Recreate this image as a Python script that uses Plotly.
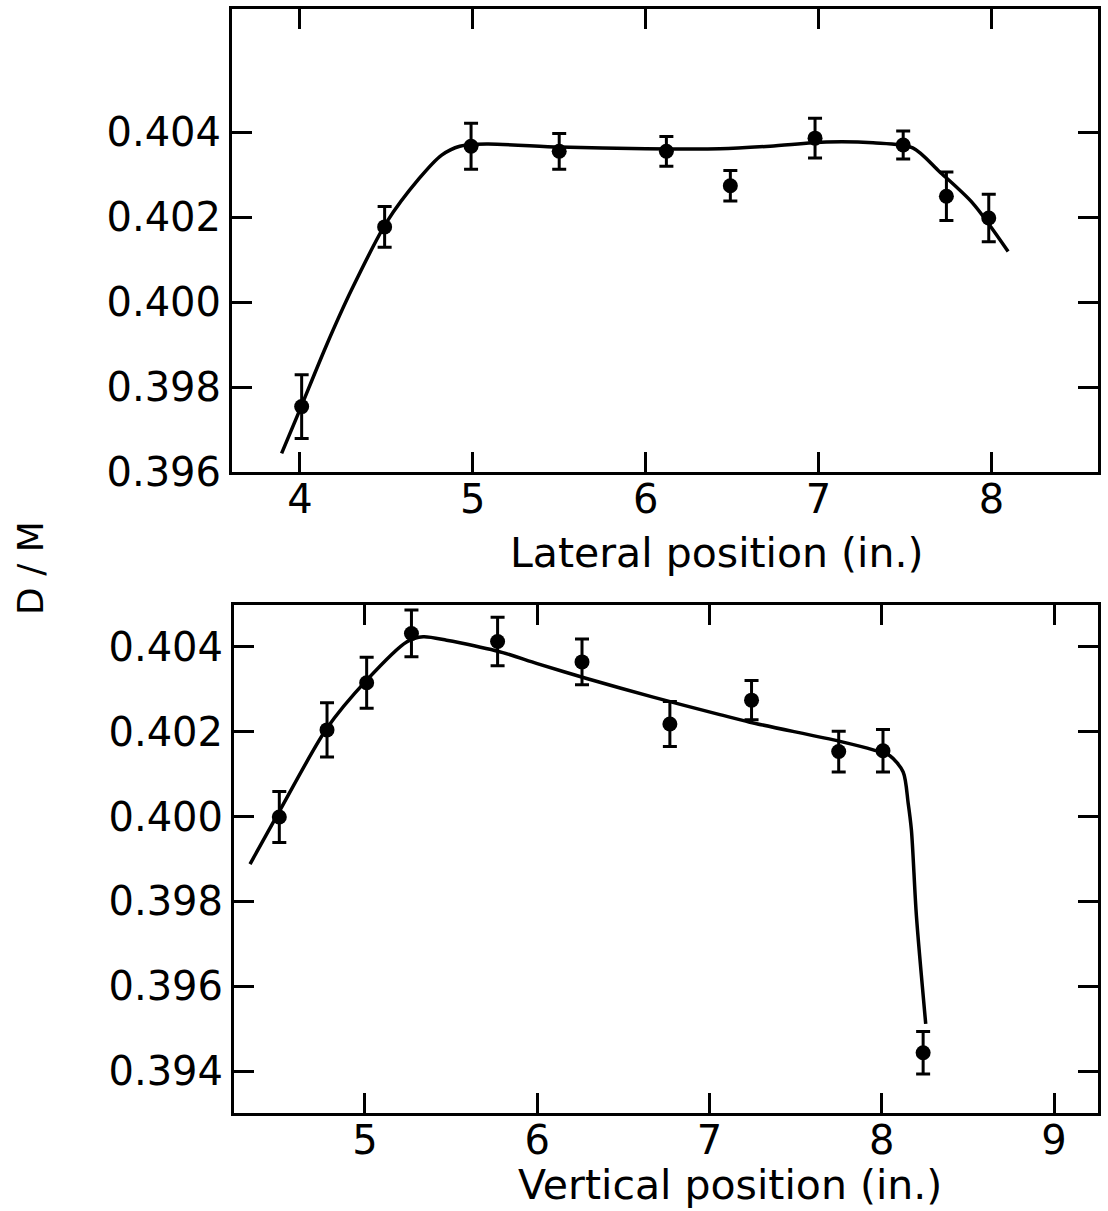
import plotly.graph_objects as go

# ---- Data: lateral position (top panel) ----
lat_x = [4.01, 4.49, 4.99, 5.50, 6.12, 6.49, 6.98, 7.49, 7.74, 7.985]
lat_y = [0.39754, 0.40177, 0.40367, 0.40355, 0.40355, 0.40274, 0.40386, 0.40370, 0.40249, 0.40198]
lat_err = [0.00075, 0.00048, 0.00054, 0.00042, 0.00035, 0.00036, 0.00047, 0.00033, 0.00057, 0.00056]
lat_fit_x = [3.894, 4.0, 4.15, 4.30, 4.50, 4.69, 4.82, 4.925, 5.08, 5.5, 6.0,
             6.43, 6.72, 7.046, 7.316, 7.545, 7.70, 7.892, 8.097]
lat_fit_y = [0.39644, 0.39747, 0.39895, 0.40030, 0.40187, 0.40291, 0.40346,
             0.40367, 0.40372, 0.40365, 0.40361, 0.40361, 0.40367, 0.40377, 0.40375, 0.40363,
             0.40307, 0.40233, 0.40119]

# ---- Data: vertical position (bottom panel) ----
ver_x = [4.503, 4.78, 5.01, 5.27, 5.77, 6.26, 6.77, 7.244, 7.75, 8.007, 8.24]
ver_y = [0.39999, 0.40204, 0.40315, 0.40431, 0.40412, 0.40364, 0.40218, 0.40274, 0.40153,
         0.40155, 0.39444]
ver_err = [0.0006, 0.00064, 0.0006, 0.00055, 0.00057, 0.00054, 0.00053, 0.00046, 0.00048,
           0.0005, 0.0005]
ver_fit_x = [4.333, 4.503, 4.778, 5.01, 5.242, 5.338, 5.474, 5.551, 5.80, 6.0, 6.287,
             6.673, 7.06, 7.234, 7.757, 7.95, 8.047, 8.124, 8.153, 8.172, 8.201, 8.255]
ver_fit_y = [0.39888, 0.40012, 0.40207, 0.40321, 0.40411, 0.40423, 0.40415, 0.40409,
             0.40386, 0.40360, 0.40325, 0.40281, 0.40240, 0.40222, 0.40177, 0.40157, 0.40143,
             0.40105, 0.40032, 0.39968, 0.39766, 0.39512]

lat_ticks = [4, 5, 6, 7, 8]
ver_ticks = [5, 6, 7, 8, 9]
lat_yticks = [0.396, 0.398, 0.400, 0.402, 0.404]
ver_yticks = [0.394, 0.396, 0.398, 0.400, 0.402, 0.404]

W, H = 1108, 1211
FONT = "DejaVu Sans"

fig = go.Figure()

def add_panel(xs, ys, errs, fx, fy, xa, ya):
    fig.add_trace(go.Scatter(x=fx, y=fy, mode="lines",
                             line=dict(color="black", width=3.5, shape="spline", smoothing=0.8),
                             xaxis=xa, yaxis=ya, showlegend=False, hoverinfo="skip"))
    fig.add_trace(go.Scatter(x=xs, y=ys, mode="markers",
                             marker=dict(color="black", size=15),
                             error_y=dict(type="data", array=errs, visible=True,
                                          color="black", thickness=3, width=7),
                             xaxis=xa, yaxis=ya, showlegend=False))

add_panel(lat_x, lat_y, lat_err, lat_fit_x, lat_fit_y, "x", "y")
add_panel(ver_x, ver_y, ver_err, ver_fit_x, ver_fit_y, "x2", "y2")

axis_common = dict(showline=True, linecolor="black", linewidth=3, mirror="ticks",
                   ticks="inside", ticklen=20, tickwidth=3, tickcolor="black",
                   showgrid=False, zeroline=False, automargin=False,
                   tickfont=dict(family=FONT, size=40, color="black"))

fig.update_layout(
    width=W, height=H,
    margin=dict(l=0, r=0, t=0, b=0),
    paper_bgcolor="white", plot_bgcolor="white",
    xaxis=dict(axis_common, domain=[232 / W, 1098 / W], range=[3.607, 8.617],
               tickvals=lat_ticks, anchor="y", ticklabelstandoff=-10),
    yaxis=dict(axis_common, domain=[1 - 472 / H, 1 - 9 / H], range=[0.396, 0.4069],
               tickvals=lat_yticks, tickformat=".3f", anchor="x", ticklabelstandoff=0),
    xaxis2=dict(axis_common, domain=[234 / W, 1098 / W], range=[4.24, 9.255],
                tickvals=ver_ticks, anchor="y2", ticklabelstandoff=-10),
    yaxis2=dict(axis_common, domain=[1 - 1113 / H, 1 - 605 / H], range=[0.39302, 0.40498],
                tickvals=ver_yticks, tickformat=".3f", anchor="x2", ticklabelstandoff=0),
)

fig.add_annotation(text="Lateral position (in.)", x=717 / W, y=1 - 553 / H,
                   xref="paper", yref="paper", showarrow=False,
                   xanchor="center", yanchor="middle",
                   font=dict(family=FONT, size=41, color="black"))
fig.add_annotation(text="Vertical position (in.)", x=730 / W, y=1 - 1185 / H,
                   xref="paper", yref="paper", showarrow=False,
                   xanchor="center", yanchor="middle",
                   font=dict(family=FONT, size=41, color="black"))
fig.add_annotation(text="D / M", x=30 / W, y=1 - 568 / H, textangle=-90,
                   xref="paper", yref="paper", showarrow=False,
                   xanchor="center", yanchor="middle",
                   font=dict(family=FONT, size=36, color="black"))

fig.write_html("out.html", config={"displayModeBar": False},
               post_script="document.body.style.margin='0';")
